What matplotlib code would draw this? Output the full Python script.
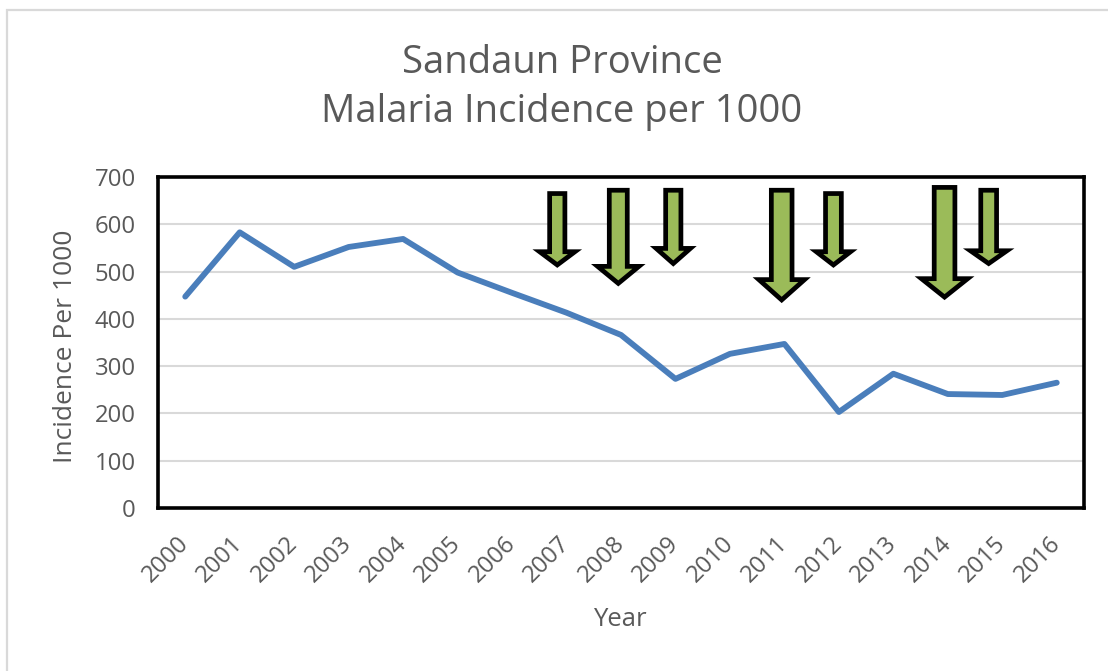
import matplotlib
matplotlib.use("Agg")
import matplotlib.pyplot as plt
from matplotlib.patches import Polygon, Rectangle

# ---- data ----
years = [str(y) for y in range(2000, 2017)]
incidence = [447, 583, 510, 552, 569, 498, 455, 413, 366, 273, 326, 347,
             203, 284, 241, 239, 265]
y_ticks = [0, 100, 200, 300, 400, 500, 600, 700]

# annotation arrows (data coordinates: category index, incidence value)
arrow_x = [6.83, 7.95, 8.96, 10.95, 11.90, 13.94, 14.75]
arrow_top = [665, 672, 672, 672, 665, 678, 672]
arrow_neck = [542, 511, 549, 483, 542, 485, 544]
arrow_tip = [514, 475, 517, 440, 514, 446, 517]
arrow_shaft_w = [0.28, 0.33, 0.28, 0.38, 0.29, 0.38, 0.29]
arrow_head_w = [0.65, 0.76, 0.63, 0.84, 0.63, 0.85, 0.67]

FONT = ["Open Sans", "DejaVu Sans"]
plt.rcParams["font.family"] = FONT
GRAY = "#595959"

W, H = 1108, 671
fig = plt.figure(figsize=(W / 100, H / 100), dpi=100)
fig.patch.set_facecolor("white")

# outer light border
fig.patches.append(Rectangle((7 / W, -0.1), 1.2, 1.1 - 10 / H,
                             transform=fig.transFigure, fill=False,
                             edgecolor="#D9D9D9", lw=1.6))

ax = fig.add_axes([158 / W, 1 - 508 / H, (1084 - 158) / W, (508 - 177) / H])

xs = list(range(len(years)))
ax.plot(xs, incidence, color="#4A7EBB", lw=4.2, solid_joinstyle="round",
        solid_capstyle="round", zorder=3)

for x, t, n, tip, sw, hw in zip(arrow_x, arrow_top, arrow_neck, arrow_tip,
                                 arrow_shaft_w, arrow_head_w):
    pts = [(x - sw / 2, t), (x + sw / 2, t), (x + sw / 2, n), (x + hw / 2, n),
           (x, tip), (x - hw / 2, n), (x - sw / 2, n)]
    ax.add_patch(Polygon(pts, closed=True, facecolor="#9BBB59",
                         edgecolor="black", lw=3.4, joinstyle="miter",
                         zorder=4))

ax.set_xlim(-0.5, len(years) - 0.5)
ax.set_ylim(0, 700)
ax.set_yticks(y_ticks)
ax.set_xticks(xs)
ax.set_xticklabels(years, rotation=45, ha="right", va="center",
                   rotation_mode="anchor")
ax.grid(axis="y", color="#D9D9D9", lw=1.5, zorder=0)
ax.set_axisbelow(True)
for s in ax.spines.values():
    s.set_linewidth(2.6)
    s.set_color("black")
ax.tick_params(axis="both", length=0, labelsize=17.2, labelcolor=GRAY)
ax.tick_params(axis="y", pad=16)
ax.tick_params(axis="x", pad=23)

ax.set_ylabel("Incidence Per 1000", fontsize=19, color=GRAY, va="center")
ax.yaxis.set_label_coords(66 / W, 1 - 346 / H, transform=fig.transFigure)
ax.set_xlabel("Year", fontsize=18.5, color=GRAY, va="center")
ax.xaxis.set_label_coords(620 / W, 1 - 619 / H, transform=fig.transFigure)

fig.text(562 / W, 1 - 63 / H, "Sandaun Province", ha="center", va="center",
         fontsize=27.5, color=GRAY)
fig.text(562 / W, 1 - 112 / H, "Malaria Incidence per 1000", ha="center",
         va="center", fontsize=27.5, color=GRAY)

fig.savefig("out.png", dpi=100)
